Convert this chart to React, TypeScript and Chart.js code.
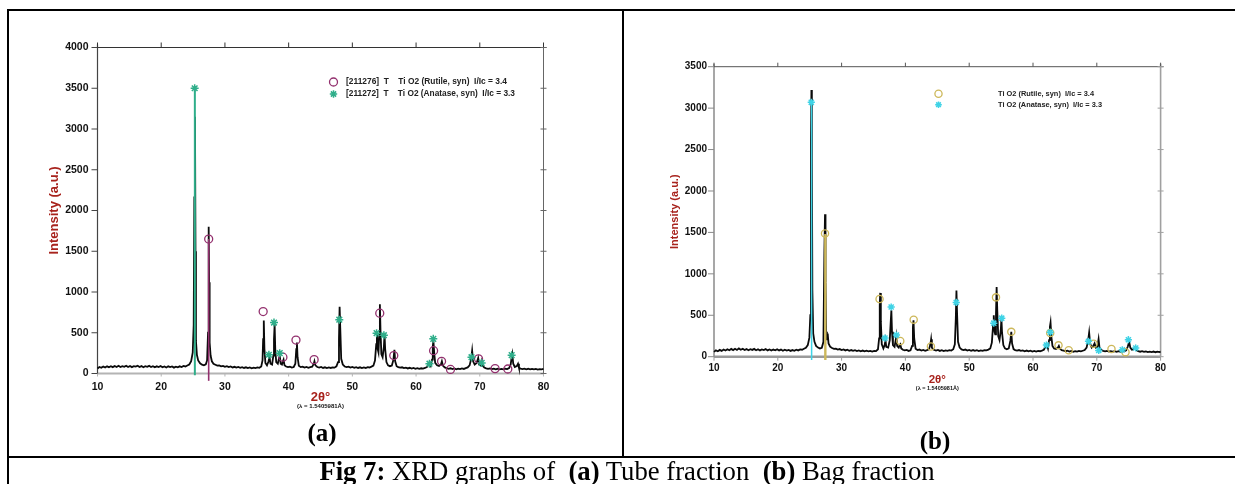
import { useEffect, useRef } from "react";
import { Chart, registerables } from "chart.js";
Chart.register(...registerables);

type Pt = [number, number];

// ---------- DATA ----------
const xTicks = [10, 20, 30, 40, 50, 60, 70, 80];
const tubeYTicks = [0, 500, 1000, 1500, 2000, 2500, 3000, 3500, 4000];
const bagYTicks = [0, 500, 1000, 1500, 2000, 2500, 3000, 3500];

const yTitle = "Intensity (a.u.)";
const xTitle = "2θ°";
const lambdaNote = "(λ = 1.5405981Å)";
const tubeLegend = ["[211276]  T    Ti O2 (Rutile, syn)  I/Ic = 3.4", "[211272]  T    Ti O2 (Anatase, syn)  I/Ic = 3.3"];
const bagLegend = ["Ti O2 (Rutile, syn)  I/Ic = 3.4", "Ti O2 (Anatase, syn)  I/Ic = 3.3"];

const tubeTrace: Pt[] = [
  [10.0, 62], [10.3, 80], [10.6, 70], [10.9, 86], [11.2, 74], [11.5, 88], [11.8, 76], [12.1, 90], [12.4, 78], [12.7, 92],
  [13.0, 80], [13.3, 94], [13.6, 79], [13.9, 90], [14.2, 82], [14.5, 95], [14.8, 80], [15.1, 92], [15.4, 78], [15.7, 90],
  [16.0, 84], [16.3, 96], [16.6, 80], [16.9, 91], [17.2, 77], [17.5, 89], [17.8, 82], [18.1, 94], [18.4, 79], [18.7, 90],
  [19.0, 76], [19.3, 88], [19.6, 80], [19.9, 92], [20.2, 77], [20.5, 86], [20.8, 74], [21.1, 88], [21.4, 78], [21.7, 86],
  [22.0, 72], [22.3, 84], [22.6, 76], [22.9, 88], [23.2, 80], [23.5, 92], [23.8, 86], [24.1, 98], [24.4, 110], [24.7, 150],
  [24.95, 260], [25.1, 600], [25.2, 2160], [25.3, 3150], [25.38, 1500], [25.45, 400], [25.6, 230], [25.8, 160], [26.1, 125],
  [26.4, 108], [26.7, 100], [27.0, 112], [27.2, 160], [27.35, 500], [27.45, 1800], [27.52, 1120], [27.6, 380], [27.75, 220],
  [27.95, 150], [28.2, 120], [28.5, 108], [28.8, 96], [29.1, 100], [29.4, 88], [29.7, 94], [30.0, 82], [30.3, 90], [30.6, 78],
  [30.9, 86], [31.2, 74], [31.5, 82], [31.8, 72], [32.1, 80], [32.4, 70], [32.7, 78], [33.0, 68], [33.3, 76], [33.6, 66],
  [33.9, 74], [34.2, 64], [34.5, 72], [34.8, 66], [35.1, 74], [35.4, 70], [35.7, 86], [35.9, 160], [36.0, 420], [36.1, 650],
  [36.2, 300], [36.35, 130], [36.6, 100], [36.85, 150], [37.0, 200], [37.15, 120], [37.4, 110], [37.6, 220], [37.7, 420],
  [37.8, 600], [37.9, 300], [38.05, 140], [38.3, 120], [38.5, 190], [38.6, 220], [38.75, 120], [38.95, 110], [39.1, 150],
  [39.2, 170], [39.35, 100], [39.6, 86], [39.9, 78], [40.2, 84], [40.5, 72], [40.8, 80], [41.05, 120], [41.2, 300], [41.3, 380],
  [41.4, 200], [41.6, 94], [41.9, 78], [42.2, 84], [42.5, 72], [42.8, 80], [43.1, 70], [43.4, 78], [43.7, 84], [43.95, 120],
  [44.05, 150], [44.2, 100], [44.5, 80], [44.8, 72], [45.1, 80], [45.4, 68], [45.7, 76], [46.0, 66], [46.3, 74], [46.6, 68],
  [46.9, 76], [47.2, 72], [47.5, 88], [47.75, 140], [47.9, 420], [48.0, 820], [48.1, 560], [48.25, 180], [48.5, 110], [48.8, 86],
  [49.1, 78], [49.4, 84], [49.7, 72], [50.0, 80], [50.3, 70], [50.6, 78], [50.9, 68], [51.2, 76], [51.5, 66], [51.8, 74],
  [52.1, 68], [52.4, 78], [52.7, 74], [53.0, 84], [53.3, 96], [53.55, 160], [53.75, 360], [53.85, 520], [53.98, 300], [54.1, 260],
  [54.22, 480], [54.32, 850], [54.42, 520], [54.55, 240], [54.75, 200], [54.95, 330], [55.05, 480], [55.15, 300], [55.35, 140],
  [55.6, 100], [55.9, 90], [56.2, 98], [56.45, 170], [56.6, 290], [56.72, 150], [56.95, 90], [57.2, 78], [57.5, 72], [57.8, 76],
  [58.1, 66], [58.4, 72], [58.7, 62], [59.0, 70], [59.3, 60], [59.6, 68], [59.9, 58], [60.2, 66], [60.5, 58], [60.8, 64],
  [61.1, 60], [61.4, 68], [61.7, 78], [61.95, 110], [62.1, 130], [62.3, 96], [62.5, 170], [62.62, 330], [62.72, 400], [62.85, 250],
  [63.0, 130], [63.3, 100], [63.6, 92], [63.9, 110], [64.05, 150], [64.2, 98], [64.5, 74], [64.8, 66], [65.1, 58], [65.4, 64],
  [65.7, 54], [66.0, 62], [66.3, 52], [66.6, 60], [66.9, 54], [67.2, 62], [67.5, 56], [67.8, 66], [68.1, 74], [68.4, 100],
  [68.65, 180], [68.8, 280], [68.95, 150], [69.2, 110], [69.5, 130], [69.75, 190], [69.9, 110], [70.1, 100], [70.25, 150],
  [70.4, 100], [70.7, 74], [71.0, 64], [71.3, 58], [71.6, 62], [71.9, 54], [72.2, 60], [72.5, 52], [72.8, 58], [73.1, 50],
  [73.4, 56], [73.7, 50], [74.0, 58], [74.3, 54], [74.6, 66], [74.85, 110], [75.0, 200], [75.1, 240], [75.25, 120], [75.5, 80],
  [75.8, 90], [76.0, 120], [76.15, 70], [76.4, 60], [76.7, 54], [77.0, 60], [77.3, 52], [77.6, 58], [77.9, 50], [78.2, 56],
  [78.5, 50], [78.8, 56], [79.1, 48], [79.4, 54], [79.7, 50], [80.0, 56],
];
const tubeRutile: Pt[] = [
  [27.45, 1650], [36.0, 760], [39.1, 200], [41.15, 410], [44.0, 170], [54.3, 740], [56.5, 220], [62.75, 280],
  [64.0, 150], [65.4, 50], [69.8, 180], [72.4, 60], [74.4, 55],
];
const tubeAnatase: Pt[] = [
  [25.25, 3500], [36.9, 230], [37.7, 625], [38.6, 250], [47.95, 660], [53.8, 495], [54.95, 470], [62.1, 120],
  [62.7, 425], [68.7, 200], [70.3, 130], [75.0, 225],
];
const tubeRutileStick: Pt[] = [[27.45, -90], [27.45, 1650]];
const tubeAnataseStick: Pt[] = [[25.28, -20], [25.28, 3500]];

const bagTrace: Pt[] = [
  [10.0, 58], [10.3, 76], [10.6, 66], [10.9, 82], [11.2, 70], [11.5, 86], [11.8, 74], [12.1, 90], [12.4, 78], [12.7, 94],
  [13.0, 80], [13.3, 96], [13.6, 82], [13.9, 100], [14.2, 84], [14.5, 96], [14.8, 80], [15.1, 92], [15.4, 78], [15.7, 90],
  [16.0, 82], [16.3, 94], [16.6, 78], [16.9, 90], [17.2, 76], [17.5, 88], [17.8, 80], [18.1, 92], [18.4, 76], [18.7, 88],
  [19.0, 74], [19.3, 86], [19.6, 78], [19.9, 90], [20.2, 76], [20.5, 86], [20.8, 72], [21.1, 84], [21.4, 74], [21.7, 82],
  [22.0, 70], [22.3, 80], [22.6, 72], [22.9, 84], [23.2, 76], [23.5, 88], [23.8, 84], [24.1, 96], [24.4, 108], [24.7, 140],
  [24.95, 230], [25.1, 500], [25.2, 2600], [25.27, 3220], [25.34, 2400], [25.42, 800], [25.55, 280], [25.75, 180], [26.0, 130],
  [26.3, 110], [26.6, 100], [26.9, 108], [27.15, 180], [27.3, 1250], [27.4, 1720], [27.48, 900], [27.58, 300], [27.7, 200],
  [27.82, 280], [27.95, 160], [28.2, 120], [28.5, 104], [28.8, 94], [29.1, 98], [29.4, 86], [29.7, 92], [30.0, 80], [30.3, 88],
  [30.6, 76], [30.9, 84], [31.2, 72], [31.5, 80], [31.8, 70], [32.1, 78], [32.4, 68], [32.7, 76], [33.0, 66], [33.3, 74],
  [33.6, 64], [33.9, 72], [34.2, 64], [34.5, 70], [34.8, 62], [35.1, 70], [35.4, 68], [35.7, 90], [35.88, 220], [35.98, 620],
  [36.05, 770], [36.15, 420], [36.3, 150], [36.55, 100], [36.75, 140], [36.88, 200], [37.0, 120], [37.3, 110], [37.55, 200],
  [37.7, 420], [37.8, 560], [37.9, 300], [38.05, 140], [38.3, 120], [38.48, 200], [38.58, 250], [38.7, 130], [38.95, 110],
  [39.1, 140], [39.2, 150], [39.35, 100], [39.6, 84], [39.9, 76], [40.2, 82], [40.5, 70], [40.8, 78], [41.05, 130], [41.18, 360],
  [41.27, 440], [41.38, 220], [41.6, 96], [41.9, 80], [42.2, 86], [42.5, 74], [42.8, 82], [43.1, 72], [43.4, 80], [43.7, 88],
  [43.92, 150], [44.03, 210], [44.15, 110], [44.45, 84], [44.8, 74], [45.1, 82], [45.4, 70], [45.7, 78], [46.0, 68], [46.3, 76],
  [46.6, 70], [46.9, 78], [47.2, 74], [47.5, 90], [47.75, 150], [47.9, 460], [48.0, 800], [48.1, 520], [48.25, 180], [48.5, 110],
  [48.8, 88], [49.1, 80], [49.4, 86], [49.7, 74], [50.0, 82], [50.3, 72], [50.6, 80], [50.9, 70], [51.2, 78], [51.5, 68],
  [51.8, 76], [52.1, 70], [52.4, 80], [52.7, 76], [53.0, 86], [53.3, 100], [53.55, 170], [53.75, 380], [53.85, 500], [53.98, 300],
  [54.08, 270], [54.2, 520], [54.3, 840], [54.4, 560], [54.55, 250], [54.75, 200], [54.95, 320], [55.05, 460], [55.15, 290],
  [55.35, 140], [55.6, 100], [55.9, 90], [56.2, 100], [56.45, 190], [56.6, 300], [56.72, 160], [56.95, 92], [57.2, 80], [57.5, 74],
  [57.8, 80], [58.1, 70], [58.4, 76], [58.7, 66], [59.0, 74], [59.3, 64], [59.6, 72], [59.9, 62], [60.2, 70], [60.5, 62],
  [60.8, 70], [61.1, 66], [61.4, 74], [61.7, 84], [61.95, 120], [62.15, 150], [62.35, 100], [62.52, 200], [62.65, 360], [62.75, 410],
  [62.88, 240], [63.05, 130], [63.3, 100], [63.6, 94], [63.9, 110], [64.05, 130], [64.2, 98], [64.5, 78], [64.8, 72], [65.1, 66],
  [65.4, 72], [65.7, 62], [66.0, 70], [66.3, 60], [66.6, 68], [66.9, 62], [67.2, 70], [67.5, 64], [67.8, 72], [68.1, 80],
  [68.4, 110], [68.65, 200], [68.8, 290], [68.95, 160], [69.2, 110], [69.45, 130], [69.65, 160], [69.85, 110], [70.1, 120],
  [70.28, 210], [70.42, 110], [70.7, 80], [71.0, 70], [71.3, 64], [71.6, 70], [71.9, 62], [72.2, 68], [72.5, 60], [72.8, 66],
  [73.1, 58], [73.4, 66], [73.7, 60], [74.0, 68], [74.3, 64], [74.6, 76], [74.85, 120], [75.0, 160], [75.1, 170], [75.25, 110],
  [75.5, 84], [75.8, 90], [76.05, 120], [76.2, 80], [76.5, 66], [76.8, 60], [77.1, 66], [77.4, 58], [77.7, 64], [78.0, 56],
  [78.3, 62], [78.6, 56], [78.9, 62], [79.2, 54], [79.5, 60], [79.8, 56], [80.0, 62],
];
const bagRutile: Pt[] = [
  [27.4, 1488], [35.95, 696], [39.2, 190], [41.3, 447], [44.0, 124], [54.2, 716], [56.6, 300], [62.7, 286],
  [64.0, 137], [65.6, 78], [69.5, 157], [72.3, 93], [74.5, 55],
];
const bagAnatase: Pt[] = [
  [25.25, 3070], [36.8, 225], [37.77, 600], [38.6, 262], [47.97, 655], [53.85, 405], [55.1, 465], [62.1, 140],
  [62.7, 295], [68.7, 185], [70.3, 76], [74.0, 84], [74.95, 205], [76.1, 105],
];
const bagRutileStick: Pt[] = [[27.45, -40], [27.45, 1480]];
const bagAnataseStick: Pt[] = [[25.3, -40], [25.3, 3070]];

// ---------- STYLE ----------
interface Panel {
  trace: Pt[]; rutile: Pt[]; anatase: Pt[]; rutileStick: Pt[]; anataseStick: Pt[];
  yTicks: number[]; legend: string[];
  area: { left: number; top: number; right: number; bottom: number };
  rutileColor: string; anataseColor: string; rutileStickW: number; anataseStickW: number;
  tickFont: number; yPad: number; xPad: number;
  titleFont: number; titleX: number;
  xTitleFont: number; xTitleY: number; lambdaFont: number; lambdaY: number; lambdaW: number;
  legMarkX: number; legY: number[]; legTextX: number; legFont: number; legW: number[];
  markR: number;
  leftColor: string; leftW: number; topColor: string; rightColor: string; rightW: number;
  bottomColor: string; bottomW: number; topTick: number; leftTick: number; bottomTick: number;
}

const tubePanel: Panel = {
  trace: tubeTrace, rutile: tubeRutile, anatase: tubeAnatase, rutileStick: tubeRutileStick, anataseStick: tubeAnataseStick,
  yTicks: tubeYTicks, legend: tubeLegend,
  area: { left: 97.5, top: 47.5, right: 543.5, bottom: 373.5 },
  rutileColor: "#93306e", anataseColor: "#2fae8a", rutileStickW: 1.6, anataseStickW: 2,
  tickFont: 10.5, yPad: 9, xPad: 7,
  titleFont: 13, titleX: 54,
  xTitleFont: 13, xTitleY: 397.5, lambdaFont: 6, lambdaY: 406, lambdaW: 52,
  legMarkX: 333.5, legY: [82, 94], legTextX: 346, legFont: 8.5, legW: [161, 169],
  markR: 4,
  leftColor: "#444", leftW: 1.2, topColor: "#333", rightColor: "#666", rightW: 1,
  bottomColor: "#b4b4b4", bottomW: 2.2, topTick: 5, leftTick: 6, bottomTick: 3,
};

const bagPanel: Panel = {
  trace: bagTrace, rutile: bagRutile, anatase: bagAnatase, rutileStick: bagRutileStick, anataseStick: bagAnataseStick,
  yTicks: bagYTicks, legend: bagLegend,
  area: { left: 714, top: 66.7, right: 1160.6, bottom: 356.7 },
  rutileColor: "#cdb85a", anataseColor: "#3fd3e6", rutileStickW: 2.4, anataseStickW: 1.5,
  tickFont: 10, yPad: 7, xPad: 5.6,
  titleFont: 11, titleX: 675,
  xTitleFont: 11.5, xTitleY: 380, lambdaFont: 5.5, lambdaY: 388.5, lambdaW: 48,
  legMarkX: 938.5, legY: [93.7, 104.7], legTextX: 998, legFont: 8, legW: [96, 104],
  markR: 3.6,
  leftColor: "#8a8a8a", leftW: 1.5, topColor: "#555", rightColor: "#a0a0a0", rightW: 1.6,
  bottomColor: "#9a9a9a", bottomW: 2.6, topTick: 4, leftTick: 6, bottomTick: 4,
};

const SANS = '"Liberation Sans", Arial, sans-serif';
const TITLE_RED = "#a8231d";

function drawStar(ctx: CanvasRenderingContext2D, x: number, y: number, r: number, color: string) {
  ctx.save();
  ctx.strokeStyle = color;
  ctx.lineWidth = 1.5;
  ctx.beginPath();
  ctx.moveTo(x - r, y); ctx.lineTo(x + r, y);
  ctx.moveTo(x, y - r); ctx.lineTo(x, y + r);
  const d = r * 0.707;
  ctx.moveTo(x - d, y - d); ctx.lineTo(x + d, y + d);
  ctx.moveTo(x - d, y + d); ctx.lineTo(x + d, y - d);
  ctx.stroke();
  ctx.restore();
}

function makeChart(canvas: HTMLCanvasElement, p: Panel) {
  const W = 70;
  const H = 30;
  const a = p.area;
  const pts = (arr: Pt[]) => arr.map(([x, y]) => ({ x, y }));

  const framePlugin = {
    id: "xrdFrame",
    beforeDatasetsDraw(chart: any) {
      const { ctx, chartArea: ca, scales } = chart;
      const xs = scales.x;
      const ys = scales.y;
      const line = (x1: number, y1: number, x2: number, y2: number, c: string, w: number) => {
        ctx.strokeStyle = c; ctx.lineWidth = w;
        ctx.beginPath(); ctx.moveTo(x1, y1); ctx.lineTo(x2, y2); ctx.stroke();
      };
      ctx.save();
      line(ca.left, ca.bottom, ca.right, ca.bottom, p.bottomColor, p.bottomW);
      line(ca.left, ca.top - 3, ca.left, ca.bottom, p.leftColor, p.leftW);
      line(ca.left, ca.top, ca.right + 3, ca.top, p.topColor, 1);
      line(ca.right, ca.top - 3, ca.right, ca.bottom, p.rightColor, p.rightW);
      for (const v of xTicks) {
        const x = xs.getPixelForValue(v);
        line(x, ca.top, x, ca.top - p.topTick, p.topColor, 1);
        line(x, ca.bottom, x, ca.bottom + p.bottomTick, p.bottomColor, 1);
      }
      for (const v of p.yTicks) {
        const y = ys.getPixelForValue(v);
        line(ca.left - p.leftTick, y, ca.left, y, p.leftColor, 1);
        line(ca.right - 3, y, ca.right + 3, y, p.rightColor, 1);
      }
      ctx.restore();
    },
    afterDraw(chart: any) {
      const { ctx, chartArea: ca } = chart;
      ctx.save();
      ctx.translate(p.titleX, (ca.top + ca.bottom) / 2);
      ctx.rotate(-Math.PI / 2);
      ctx.fillStyle = TITLE_RED;
      ctx.font = `bold ${p.titleFont}px ${SANS}`;
      ctx.textAlign = "center";
      ctx.textBaseline = "middle";
      ctx.fillText(yTitle, 0, 0);
      ctx.restore();

      ctx.save();
      const cx = (ca.left + ca.right) / 2;
      ctx.textAlign = "center";
      ctx.textBaseline = "middle";
      ctx.fillStyle = TITLE_RED;
      ctx.font = `bold ${p.xTitleFont}px ${SANS}`;
      ctx.fillText(xTitle, cx, p.xTitleY);
      ctx.fillStyle = "#111";
      ctx.font = `bold ${p.lambdaFont}px ${SANS}`;
      ctx.fillText(lambdaNote, cx, p.lambdaY, p.lambdaW);

      ctx.beginPath();
      ctx.strokeStyle = p.rutileColor;
      ctx.lineWidth = 1.3;
      ctx.arc(p.legMarkX, p.legY[0], p.markR, 0, Math.PI * 2);
      ctx.stroke();
      drawStar(ctx, p.legMarkX, p.legY[1], p.markR - 0.3, p.anataseColor);
      ctx.fillStyle = "#222";
      ctx.textAlign = "left";
      ctx.font = `bold ${p.legFont}px ${SANS}`;
      p.legend.forEach((t, i) => ctx.fillText(t, p.legTextX, p.legY[i], p.legW[i]));
      ctx.restore();
    },
  };

  const tickFont = { family: SANS, weight: "bold", size: p.tickFont };

  return new Chart(canvas, {
    type: "scatter",
    data: {
      datasets: [
        {
          data: pts(p.anatase), pointStyle: "star", pointRadius: p.markR, borderColor: p.anataseColor,
          backgroundColor: p.anataseColor, pointBorderWidth: 1.5, clip: false,
        } as any,
        {
          data: pts(p.rutile), pointStyle: "circle", pointRadius: p.markR, borderColor: p.rutileColor,
          backgroundColor: "rgba(0,0,0,0)", pointBorderWidth: 1.3, clip: false,
        } as any,
        {
          data: pts(p.rutileStick), showLine: true, pointRadius: 0, borderColor: p.rutileColor,
          borderWidth: p.rutileStickW, clip: false,
        } as any,
        {
          data: pts(p.anataseStick), showLine: true, pointRadius: 0, borderColor: p.anataseColor,
          borderWidth: p.anataseStickW, clip: false,
        } as any,
        {
          data: pts(p.trace), showLine: true, pointRadius: 0, borderColor: "#0a0a0a",
          borderWidth: 1.8, tension: 0, clip: false,
        } as any,
      ],
    },
    options: {
      animation: false,
      responsive: false,
      events: [],
      layout: {
        padding: { left: a.left - W, top: a.top, right: 1235 - a.right, bottom: 484 - a.bottom - H },
      },
      plugins: { legend: { display: false }, tooltip: { enabled: false } },
      scales: {
        x: {
          type: "linear", min: 10, max: 80,
          afterBuildTicks: (s: any) => { s.ticks = xTicks.map((v) => ({ value: v })); },
          afterFit: (s: any) => { s.height = H; },
          grid: { display: false, drawTicks: false }, border: { display: false },
          ticks: { color: "#111", padding: p.xPad, maxRotation: 0, autoSkip: false, font: tickFont, callback: (v: any) => String(v) },
        },
        y: {
          type: "linear", min: 0, max: p.yTicks[p.yTicks.length - 1],
          afterBuildTicks: (s: any) => { s.ticks = p.yTicks.map((v) => ({ value: v })); },
          afterFit: (s: any) => { s.width = W; },
          grid: { display: false, drawTicks: false }, border: { display: false },
          ticks: { color: "#111", padding: p.yPad, autoSkip: false, font: tickFont, callback: (v: any) => String(v) },
        },
      },
    } as any,
    plugins: [framePlugin],
  });
}

function PanelCanvas({ panel }: { panel: Panel }) {
  const ref = useRef<HTMLCanvasElement | null>(null);
  useEffect(() => {
    if (!ref.current) return;
    const c = makeChart(ref.current, panel);
    return () => c.destroy();
  }, [panel]);
  return <canvas ref={ref} width={1235} height={484} style={{ position: "absolute", left: 0, top: 0, width: 1235, height: 484 }} />;
}

const SERIF = '"Liberation Serif", "Times New Roman", serif';

export default function App() {
  const rule = (left: number, top: number, width: number, height: number) => (
    <div style={{ position: "absolute", left, top, width, height, background: "#000" }} />
  );
  return (
    <div style={{ position: "absolute", left: 0, top: 0, width: 1235, height: 484, overflow: "hidden", background: "#fff" }}>
      {rule(7, 9, 1228, 2)}
      {rule(7, 9, 2, 475)}
      {rule(622, 9, 2, 448)}
      {rule(7, 455.5, 1228, 2)}
      <PanelCanvas panel={tubePanel} />
      <PanelCanvas panel={bagPanel} />
      <div style={{ position: "absolute", left: 222, width: 200, top: 420, textAlign: "center", font: `bold 25px ${SERIF}`, lineHeight: "25px" }}>(a)</div>
      <div style={{ position: "absolute", left: 835, width: 200, top: 428, textAlign: "center", font: `bold 25px ${SERIF}`, lineHeight: "25px" }}>(b)</div>
      <div style={{ position: "absolute", left: 0, width: 1254, top: 458, textAlign: "center", font: `26.7px ${SERIF}`, lineHeight: "26.7px", whiteSpace: "pre", color: "#000" }}>
        <b>Fig 7:</b>{" XRD graphs of  "}<b>(a)</b>{" Tube fraction  "}<b>(b)</b>{" Bag fraction"}
      </div>
    </div>
  );
}
